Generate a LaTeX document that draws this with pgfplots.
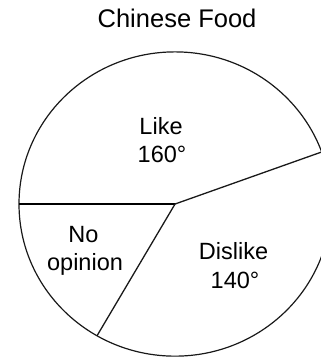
\documentclass[border=0pt]{standalone}
\usepackage{pgfplots}
\pgfplotsset{compat=1.18}
\usepackage{fontspec}
\setmainfont{Liberation Sans}
\begin{document}
\begin{tikzpicture}
\begin{axis}[
  hide axis,
  disabledatascaling,
  x=1pt, y=0.975pt,
  xmin=-175, xmax=145,
  ymin=-157.9, ymax=209.2,
  clip=false,
  scale only axis,
]
% pie outline
\draw[line width=1.2pt, color=black!90] (axis cs:0,0) circle[radius=156];
% slice boundaries: Like 20..180 (160 deg), No opinion 180..240 (60 deg), Dislike 240..380 (140 deg)
\addplot[line width=2pt, color=black, data cs=polar] coordinates {(0,0) (180,156)};
\addplot[line width=1.3pt, color=black!90, data cs=polar] coordinates {(0,0) (20,156)};
\addplot[line width=1.3pt, color=black!90, data cs=polar] coordinates {(0,0) (240,156)};
% labels
\node[anchor=base, font=\fontsize{25.5}{30}\selectfont, text=black] at (axis cs:2,180.5) {Chinese Food};
\node[anchor=base, font=\fontsize{23.5}{28}\selectfont, text=black] at (axis cs:-14,70.8) {Like};
\node[anchor=base, font=\fontsize{23.5}{28}\selectfont, text=black] at (axis cs:-13,42.1) {160°};
\node[anchor=base, font=\fontsize{23.5}{28}\selectfont, text=black] at (axis cs:-91.5,-39) {No};
\node[anchor=base, font=\fontsize{23.5}{28}\selectfont, text=black] at (axis cs:-90,-67.7) {opinion};
\node[anchor=base, font=\fontsize{23.5}{28}\selectfont, text=black] at (axis cs:58.5,-57.4) {Dislike};
\node[anchor=base, font=\fontsize{23.5}{28}\selectfont, text=black] at (axis cs:60,-86.2) {140°};
\end{axis}
\pgfresetboundingbox
\path (current axis.south west) rectangle (current axis.north east);
\end{tikzpicture}
\end{document}
